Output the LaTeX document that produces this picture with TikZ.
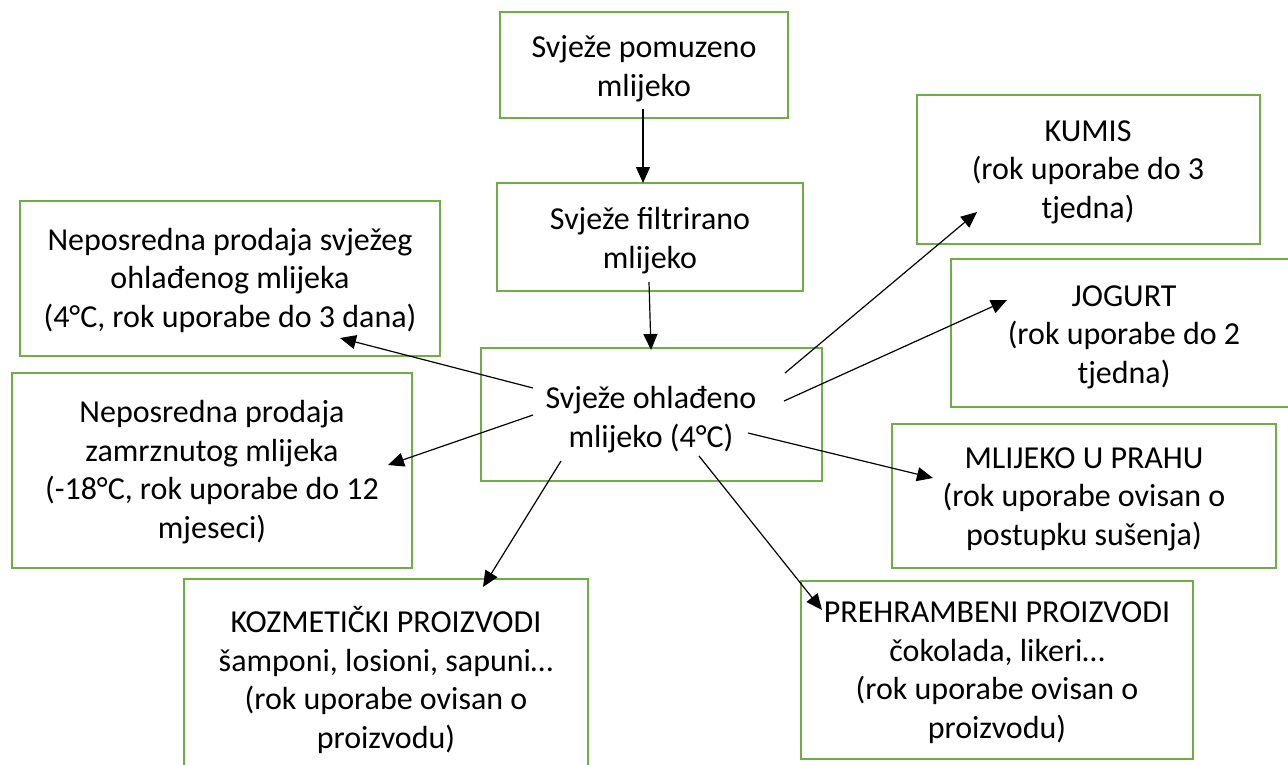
\documentclass[tikz,border=0pt]{standalone}
\usepackage{fontspec}
\setmainfont{Carlito}
\usetikzlibrary{arrows.meta}
\definecolor{boxgreen}{HTML}{70AD47}
\begin{document}
\begin{tikzpicture}[x=1pt,y=-1pt,
  box/.style={draw=boxgreen, line width=2.5pt, inner sep=0pt},
  txt/.style={align=center, anchor=base, inner sep=0pt, font=\fontsize{32}{38.5}\selectfont},
  arr/.style={-{Triangle[length=16pt,width=14pt]}, line width=1.2pt, draw=black}]
\useasboundingbox (0,0) rectangle (1288,764);
% boxes
\node[box, minimum width=288pt, minimum height=106pt] (b1) at (644,65) {};
\node[box, minimum width=306pt, minimum height=108pt] (b2) at (650,237) {};
\node[box, minimum width=341pt, minimum height=133pt] (b3) at (651.5,414.5) {};
\node[box, minimum width=420pt, minimum height=155pt] (b4) at (230,278.5) {};
\node[box, minimum width=400pt, minimum height=195pt] (b5) at (212,470.5) {};
\node[box, minimum width=404pt, minimum height=211pt] (b6) at (386,684.5) {};
\node[box, minimum width=392pt, minimum height=178pt] (b7) at (997,670) {};
\node[box, minimum width=343pt, minimum height=149pt] (b8) at (1088.5,169.5) {};
\node[box, minimum width=346pt, minimum height=148pt] (b9) at (1124,333) {};
\node[box, minimum width=384pt, minimum height=144pt] (b10) at (1084,496) {};
% texts (anchor = baseline of last line)
\node[txt] (t1) at (644,96) {Svježe pomuzeno\\mlijeko};
\node[txt] (t2) at (650,268) {Svježe filtrirano\\mlijeko};
\node[txt] (t3) at (651,447) {Svježe ohlađeno\\mlijeko (4°C)};
\node[txt] (t4) at (230,327) {Neposredna prodaja svježeg\\ohlađenog mlijeka\\(4°C, rok uporabe do 3 dana)};
\node[txt] (t5) at (212,538) {Neposredna prodaja\\zamrznutog mlijeka\\(-18°C, rok uporabe do 12\\mjeseci)};
\node[txt] (t6) at (386,748) {KOZMETIČKI PROIZVODI\\šamponi, losioni, sapuni…\\(rok uporabe ovisan o\\proizvodu)};
\node[txt] (t7) at (997,738) {PREHRAMBENI PROIZVODI\\čokolada, likeri…\\(rok uporabe ovisan o\\proizvodu)};
\node[txt] (t8) at (1088,218) {KUMIS\\(rok uporabe do 3\\tjedna)};
\node[txt] (t9) at (1124,383) {JOGURT\\(rok uporabe do 2\\tjedna)};
\node[txt] (t10) at (1084,545) {MLIJEKO U PRAHU\\(rok uporabe ovisan o\\postupku sušenja)};
% arrow end points
\coordinate (s1) at (643,109);  \coordinate (e1) at (643,183);
\coordinate (s2) at (649,282);  \coordinate (e2) at (651,350);
\coordinate (s3) at (533,388);  \coordinate (e3) at (340,338);
\coordinate (s4) at (533,415);  \coordinate (e4) at (388,465);
\coordinate (s5) at (561,461);  \coordinate (e5) at (483,587);
\coordinate (s6) at (699,456);  \coordinate (e6) at (822,610);
\coordinate (s7) at (748,433);  \coordinate (e7) at (933,478);
\coordinate (s8) at (785,373);  \coordinate (e8) at (977,212);
\coordinate (s9) at (784,401);  \coordinate (e9) at (1007,300);
% connectors
\draw[arr] (s1) -- (e1);
\draw[arr] (s2) -- (e2);
\draw[arr] (s3) -- (e3);
\draw[arr] (s4) -- (e4);
\draw[arr] (s5) -- (e5);
\draw[arr] (s6) -- (e6);
\draw[arr] (s7) -- (e7);
\draw[arr] (s8) -- (e8);
\draw[arr] (s9) -- (e9);
\end{tikzpicture}
\end{document}
